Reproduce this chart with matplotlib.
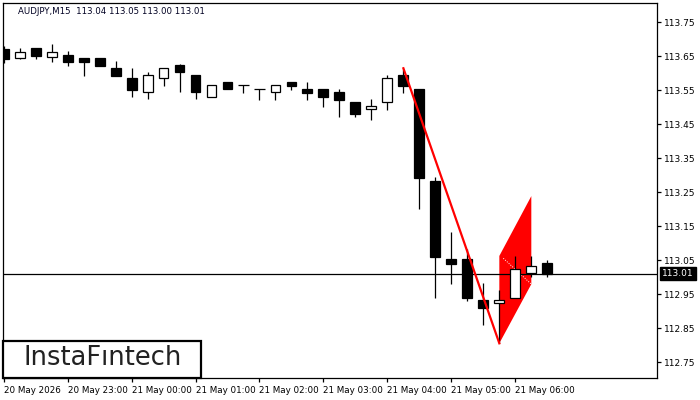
import matplotlib.pyplot as plt
from matplotlib.patches import Rectangle
import matplotlib.transforms as mtransforms

# AUDJPY M15 candles, 20 May 22:00 .. 21 May 06:30
opens = [113.67, 113.643, 113.673, 113.646, 113.653, 113.645, 113.643, 113.614, 113.584, 113.543,
         113.584, 113.624, 113.594, 113.530, 113.573, 113.565, 113.552, 113.543, 113.574, 113.553,
         113.553, 113.544, 113.514, 113.493, 113.514, 113.594, 113.553, 113.282, 113.053, 113.053,
         112.932, 112.923, 112.939, 113.011, 113.04]
highs = [113.68, 113.674, 113.675, 113.685, 113.665, 113.645, 113.643, 113.635, 113.614, 113.604,
         113.614, 113.626, 113.594, 113.565, 113.573, 113.565, 113.552, 113.564, 113.574, 113.574,
         113.553, 113.553, 113.514, 113.523, 113.594, 113.611, 113.553, 113.295, 113.133, 113.082,
         112.982, 112.962, 113.062, 113.062, 113.05]
lows = [113.63, 113.641, 113.641, 113.633, 113.621, 113.591, 113.621, 113.592, 113.530, 113.523,
        113.563, 113.543, 113.523, 113.530, 113.552, 113.540, 113.520, 113.520, 113.550, 113.520,
        113.501, 113.471, 113.471, 113.462, 113.491, 113.542, 113.200, 112.939, 112.979, 112.930,
        112.860, 112.805, 112.939, 113.001, 113.00]
closes = [113.64, 113.663, 113.651, 113.663, 113.633, 113.633, 113.621, 113.592, 113.550, 113.594,
          113.614, 113.602, 113.543, 113.565, 113.552, 113.565, 113.552, 113.564, 113.563, 113.542,
          113.530, 113.520, 113.480, 113.502, 113.584, 113.563, 113.292, 113.060, 113.039, 112.939,
          112.910, 112.932, 113.023, 113.032, 113.01]

time_ticks = [0, 4, 8, 12, 16, 20, 24, 28, 32]
time_labels = ['20 May 2026', '20 May 23:00', '21 May 00:00', '21 May 01:00', '21 May 02:00',
               '21 May 03:00', '21 May 04:00', '21 May 05:00', '21 May 06:00']
price_ticks = [112.75, 112.85, 112.95, 113.05, 113.15, 113.25, 113.35, 113.45, 113.55, 113.65, 113.75]
last_price = 113.01

# bearish pennant: pole and flag
pole_x = [25, 31]
pole_y = [113.614, 112.805]
flag_x = [31, 31, 33, 33]
flag_y = [112.805, 113.062, 113.238, 112.979]

plt.rcParams['font.family'] = ['DejaVu Sans']

fig = plt.figure(figsize=(7, 4), dpi=100)
ax = fig.add_axes([3 / 700, 22 / 400, 654 / 700, 375 / 400])

ax.fill(flag_x, flag_y, color='#ff0000', lw=0, zorder=1)
ax.plot([flag_x[1] + 0.25, flag_x[3]], [113.055, flag_y[3]], color='white', lw=0.7,
        ls=(0, (1, 1.5)), zorder=1.5)

for i in range(len(opens)):
    o, h, l, c = opens[i], highs[i], lows[i], closes[i]
    ax.vlines(i, l, h, color='black', lw=0.9, zorder=2)
    if abs(c - o) < 0.002:
        ax.hlines(o, i - 0.33, i + 0.33, color='black', lw=0.9, zorder=3)
    else:
        fc = 'white' if c > o else 'black'
        ax.bar(i, abs(c - o), bottom=min(o, c), width=0.62, facecolor=fc,
               edgecolor='black', lw=0.9, zorder=3)

ax.plot(pole_x, pole_y, color='#ff0000', lw=1.6, zorder=4)
ax.axhline(last_price, color='black', lw=0.9, zorder=2.5)

ax.set_xlim(-0.04, 40.86)
ax.set_ylim(112.703, 113.806)

ax.yaxis.tick_right()
ax.set_yticks(price_ticks)
ax.set_yticklabels(['%.2f' % p for p in price_ticks])
ax.set_xticks(time_ticks)
ax.set_xticklabels(time_labels)
for lbl in ax.get_xticklabels():
    lbl.set_horizontalalignment('left')
ax.tick_params(axis='both', direction='out', length=3, width=0.9, labelsize=6.5,
               colors='black', pad=2)
ax.tick_params(axis='x', pad=3, labelsize=6.3)
for s in ax.spines.values():
    s.set_linewidth(0.9)

trans = mtransforms.blended_transform_factory(ax.transAxes, ax.transData)
ax.text(1.008, last_price, '%.2f' % last_price, transform=trans, ha='left', va='center',
        fontsize=6.5, color='white',
        bbox=dict(boxstyle='square,pad=0.2', facecolor='black', edgecolor='black'))

ax.text(0.023, 0.978, 'AUDJPY,M15  113.04 113.05 113.00 113.01', transform=ax.transAxes,
        ha='left', va='center', fontsize=6.2, color='#000022')

ax.add_patch(Rectangle((0, 0), 0.303, 0.099, transform=ax.transAxes, facecolor='white',
                       edgecolor='black', lw=1.6, zorder=5, clip_on=False))
ax.text(0.152, 0.054, 'InstaF\u0131ntech', transform=ax.transAxes, ha='center', va='center',
        fontsize=18.5, color='#222222', zorder=6)

fig.savefig('out.png', dpi=100)
